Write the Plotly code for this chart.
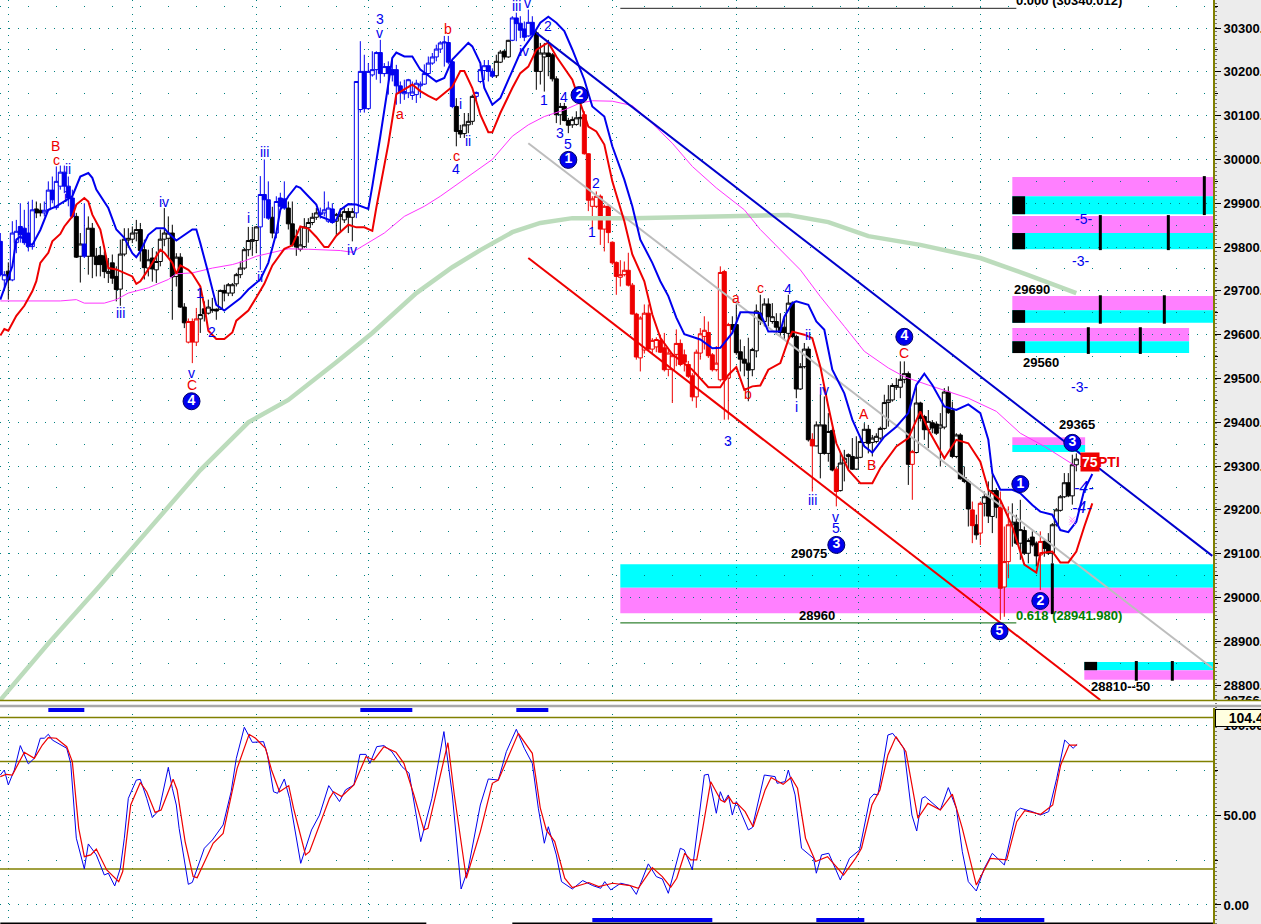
import plotly.graph_objects as go

FONT = "Liberation Sans"
BLUE, RED, BLACK = "#0000ee", "#ee0000", "#000000"
W, H, RIGHT = 1261, 924, 1213

# ---------- candles ----------
opens = [29813,29725,29745,29725,29810,29847,29843,29832,29801,29887,29884,29878,29885,29930,29890,29939,29971,29939,29912,29870,
29779,29807,29779,29843,29779,29781,29780,29740,29764,29733,29704,29784,29816,29818,29832,29840,29794,29752,29775,29748,
29767,29818,29820,29832,29733,29777,29663,29583,29630,29583,29636,29659,29649,29655,29658,29658,29701,29695,29695,29716,
29737,29752,29794,29813,29815,29846,29920,29908,29868,29832,29912,29910,29889,29853,29824,29795,29801,29844,29856,29868,
29874,29878,29859,29887,29859,29870,29862,29881,29868,29878,30114,30201,30116,30193,30205,30244,30196,30212,30205,30205,
30168,30150,30152,30146,30148,30168,30172,30196,30220,30234,30252,30266,30267,30223,30121,30066,30059,30079,30087,30144,
30178,30203,30214,30201,30191,30222,30247,30234,30272,30323,30311,30298,30282,30313,30289,30201,30234,30243,30239,30184,
30102,30121,30089,30079,30080,30093,30102,30013,29893,29893,29916,29841,29893,29811,29765,29731,29737,29747,29713,29647,
29547,29565,29649,29567,29572,29587,29570,29521,29520,29555,29580,29554,29532,29506,29458,29558,29596,29605,29554,29520,
29497,29744,29501,29623,29623,29561,29544,29535,29520,29563,29649,29630,29670,29630,29630,29617,29617,29603,29672,29596,
29476,29527,29567,29361,29346,29329,29394,29329,29381,29293,29244,29307,29322,29322,29293,29320,29354,29384,29354,29356,
29364,29386,29445,29451,29480,29480,29498,29511,29304,29331,29444,29413,29383,29399,29396,29387,29389,29469,29427,29322,
29371,29274,29265,29200,29166,29147,29215,29230,29185,29244,29206,29024,29082,29166,29172,29124,29153,29101,29138,29124,
29097,29128,29128,29101,29166,29199,29230,29262,29232,29303]
closes = [29737,29737,29725,29832,29836,29828,29810,29801,29885,29878,29878,29884,29930,29908,29950,29971,29939,29912,29870,29777,
29807,29779,29843,29779,29760,29760,29744,29744,29729,29703,29784,29818,29820,29832,29840,29792,29753,29771,29750,29767,
29818,29832,29832,29732,29777,29663,29627,29630,29583,29636,29646,29648,29663,29658,29654,29701,29695,29714,29714,29737,
29752,29794,29815,29817,29846,29920,29908,29866,29832,29904,29893,29889,29853,29805,29800,29805,29846,29856,29868,29878,
29878,29885,29889,29856,29874,29874,29881,29868,29881,30178,30201,30116,30201,30205,30244,30196,30212,30196,30193,30168,
30152,30155,30182,30154,30174,30172,30196,30220,30234,30252,30266,30268,30222,30121,30064,30058,30079,30087,30144,30153,
30205,30214,30201,30190,30224,30245,30234,30272,30323,30310,30295,30279,30313,30285,30201,30243,30243,30235,30184,30102,
30121,30089,30078,30091,30095,30096,30013,29907,29910,29916,29841,29893,29833,29764,29733,29737,29747,29713,29647,29549,
29638,29649,29567,29587,29589,29560,29520,29558,29552,29580,29532,29537,29505,29458,29560,29602,29610,29552,29520,29535,
29742,29497,29623,29612,29559,29544,29535,29519,29566,29654,29630,29670,29641,29641,29617,29605,29605,29672,29596,29476,
29527,29567,29360,29346,29394,29394,29329,29379,29291,29242,29307,29318,29326,29293,29320,29356,29384,29352,29364,29368,
29386,29445,29451,29484,29484,29498,29511,29304,29333,29444,29409,29383,29402,29387,29375,29394,29469,29422,29322,29371,
29271,29265,29202,29164,29143,29215,29230,29186,29244,29206,29021,29082,29166,29172,29124,29155,29101,29130,29120,29095,
29128,29112,29101,29166,29200,29230,29262,29232,29303,29316]
highs = [29832,29745,29765,29859,29862,29900,29885,29904,29908,29904,29900,29904,29950,29961,29984,29986,29986,29961,29931,29878,
29832,29900,29870,29855,29798,29802,29790,29775,29783,29756,29817,29843,29843,29847,29862,29855,29817,29794,29798,29790,
29840,29889,29870,29851,29786,29786,29672,29637,29637,29661,29703,29676,29680,29684,29660,29703,29714,29718,29718,29741,
29767,29798,29846,29846,29848,29962,30000,29950,29892,29916,29924,29950,29904,29904,29840,29846,29866,29866,29878,29889,
29890,29927,29904,29900,29878,29889,29889,29889,29889,30178,30270,30239,30220,30247,30247,30273,30220,30224,30232,30216,
30178,30182,30184,30178,30182,30178,30217,30235,30243,30262,30270,30282,30282,30227,30140,30079,30106,30106,30148,30155,
30216,30227,30227,30208,30239,30250,30250,30273,30327,30335,30327,30315,30342,30327,30293,30266,30266,30273,30243,30190,
30129,30129,30095,30098,30110,30129,30110,30014,29916,29927,29920,29897,29897,29813,29767,29770,29767,29787,29718,29650,
29642,29669,29669,29592,29594,29600,29604,29566,29558,29612,29589,29566,29540,29512,29566,29615,29642,29630,29558,29574,
29756,29748,29627,29642,29669,29589,29574,29593,29570,29669,29691,29683,29683,29672,29649,29649,29640,29691,29676,29600,
29535,29581,29573,29375,29402,29463,29459,29421,29386,29299,29333,29337,29329,29364,29368,29364,29398,29394,29371,29375,
29390,29463,29485,29489,29501,29539,29539,29516,29337,29482,29447,29417,29428,29405,29402,29421,29478,29482,29447,29375,
29375,29299,29269,29219,29189,29219,29242,29265,29284,29250,29242,29162,29208,29215,29189,29223,29162,29135,29151,29128,
29151,29132,29147,29170,29204,29234,29284,29284,29326,29329]
lows = [29733,29700,29680,29722,29786,29810,29805,29790,29794,29866,29870,29870,29885,29900,29885,29931,29923,29893,29866,29775,
29719,29775,29737,29729,29733,29733,29729,29718,29716,29676,29666,29779,29798,29809,29813,29767,29726,29733,29721,29718,
29756,29802,29775,29634,29710,29661,29615,29580,29535,29574,29604,29630,29646,29650,29634,29657,29676,29688,29688,29710,
29729,29748,29779,29780,29786,29748,29866,29862,29820,29820,29885,29885,29840,29801,29780,29790,29798,29810,29850,29862,
29865,29870,29855,29853,29828,29836,29855,29832,29813,29866,30107,30107,30113,30189,30182,30174,30189,30148,30178,30125,
30127,30136,30140,30136,30129,30140,30170,30193,30216,30224,30243,30212,30217,30117,30030,30049,30049,30060,30079,30136,
30174,30181,30178,30186,30186,30220,30228,30232,30270,30270,30277,30270,30280,30281,30159,30171,30155,30190,30178,30083,
30079,30087,30060,30072,30077,30075,30011,29882,29844,29889,29805,29790,29809,29760,29691,29710,29733,29710,29646,29543,
29516,29557,29562,29557,29560,29558,29516,29505,29444,29528,29528,29516,29501,29448,29433,29543,29566,29547,29516,29516,
29493,29406,29406,29604,29554,29516,29505,29448,29505,29548,29622,29619,29619,29625,29600,29596,29590,29588,29592,29455,
29474,29523,29356,29242,29345,29272,29326,29310,29288,29208,29242,29265,29291,29291,29291,29318,29352,29329,29322,29352,
29360,29383,29390,29447,29474,29455,29489,29257,29223,29329,29402,29360,29341,29375,29371,29299,29384,29419,29318,29318,
29269,29261,29162,29124,29132,29120,29185,29170,29147,29181,28949,28956,29044,29116,29120,29086,29097,29078,29116,29071,
29017,29093,29097,29078,29162,29196,29227,29229,29212,29288]
candle_colors = ("bbkbbbbbbkkbbbbbbbbk" "kbkkkkkkkkkkkkkkkkkk" "kkkkkkkrrrkkkkkkkkkk" "kkkkkbbbkbbbkkkkkkkk"
                 "bbbbkkkkkbbbbbbbbbbb" "bbbbbbbbbbbbbbkkkkkb" "bbbbkkkkbbbbbbkkkkkk" "kkkkkkrrrrrrrrrrrrrr"
                 "rrrrrrrrrrrrrrrrrrrr" "rrrkkkkkkkkkkkkkkkkk" "kkkrkkkkkrkkkkkkkkkk" "kkkkkkkkrkkkkkkkkkkk"
                 "kkkrkrkkkkrrrkkkkkkk" "rkkkkkkkkk")
bars = list(range(len(opens)))

# ---------- price-panel overlays: (bar, price) ----------
upper_x = [0,3,4,5,7,8,10,12,14,16,18,20,22,23,24,27,29,31,33,34,35,37,39,41,42,44,46,48,49,50,52,54,56,58,60,62,65,67,69,70,72,74,75,77,79,80,83,84,85,87,89,92,93,95,97,98,99,101,103,105,109,111,113,117,118,120,121,123,125,128,130,133,135,137,139,141,143,146,148,151,153,156,158,160,163,165,167,169,171,175,178,180,183,185,187,190,192,195,196,198,199,202,204,206,208,211,213,216,218,221,224,227,229,231,233,236,239,242,245,247,248,250,253,255,258,260,263,265,267,269,271,273]
upper_y = [29680,29756,29817,29824,29809,29805,29839,29885,29893,29904,29916,29961,29969,29958,29931,29889,29840,29821,29786,29777,29790,29828,29843,29843,29832,29815,29828,29840,29840,29809,29740,29668,29655,29668,29683,29703,29726,29764,29832,29885,29916,29939,29935,29916,29897,29870,29859,29862,29885,29898,29897,29887,29939,30053,30167,30232,30244,30235,30235,30205,30178,30186,30228,30266,30258,30220,30163,30125,30140,30205,30244,30282,30312,30326,30312,30293,30251,30182,30121,30098,30030,29954,29893,29817,29764,29722,29688,29639,29601,29589,29569,29570,29604,29651,29651,29649,29607,29607,29641,29672,29676,29668,29630,29611,29520,29466,29406,29345,29331,29367,29390,29421,29485,29511,29485,29436,29428,29441,29421,29360,29284,29246,29246,29238,29211,29196,29189,29154,29149,29173,29246,29282]
lower_x = [0,1,2,4,6,8,9,10,12,13,15,16,18,19,21,22,23,25,26,27,29,31,33,34,35,37,40,41,43,44,45,47,48,50,51,52,54,56,58,59,62,64,66,68,71,73,75,77,79,81,82,84,87,89,91,93,94,97,99,101,103,105,107,109,113,115,116,118,120,122,123,125,128,130,132,134,137,139,141,143,144,145,147,149,151,153,156,158,161,163,165,168,173,177,180,182,184,186,188,190,192,195,197,198,201,203,205,207,209,212,215,218,220,224,227,230,232,236,238,239,242,245,247,250,253,256,259,260,263,265,267,269,271,273]
lower_y = [29598,29613,29609,29643,29666,29699,29722,29764,29787,29813,29830,29847,29870,29897,29912,29904,29874,29840,29798,29752,29749,29741,29733,29716,29722,29749,29794,29787,29764,29739,29758,29748,29739,29710,29666,29609,29590,29590,29605,29632,29655,29685,29716,29758,29796,29804,29847,29842,29823,29800,29800,29826,29851,29845,29845,29837,29890,30035,30149,30160,30171,30156,30145,30136,30166,30202,30202,30163,30102,30062,30062,30106,30163,30197,30212,30250,30267,30235,30208,30182,30155,30129,30075,30064,30034,29950,29859,29783,29722,29646,29593,29555,29520,29480,29480,29508,29526,29474,29482,29484,29520,29535,29588,29607,29600,29592,29527,29436,29352,29291,29261,29261,29295,29345,29364,29425,29383,29318,29345,29360,29352,29310,29246,29223,29162,29075,29057,29101,29105,29080,29080,29105,29162,29215]
thin_x = [0,7,15,19,21,26,29,32,37,42,44,48,53,58,61,64,68,72,77,81,85,88,91,96,101,106,110,116,123,128,132,136,141,145,148,153,158,162,168,173,179,186,190,200,205,211,216,222,226,232,237,242,249,255,261,265,269]
thin_y = [29677,29677,29677,29680,29672,29672,29680,29695,29707,29726,29739,29741,29752,29760,29768,29779,29787,29796,29795,29794,29792,29788,29805,29832,29870,29893,29916,29954,30000,30053,30079,30098,30113,30129,30134,30133,30123,30091,30037,29984,29935,29885,29840,29748,29687,29619,29562,29524,29504,29485,29470,29455,29425,29375,29345,29322,29299]
slow_x = [0,6,12,25,37,50,62,72,84,93,104,113,120,128,135,143,158,175,190,197,207,217,230,245,257,269]
slow_y = [28766,28832,28895,29028,29154,29291,29400,29451,29537,29604,29695,29754,29793,29834,29855,29866,29866,29869,29871,29873,29857,29825,29805,29775,29736,29695]

# ---------- trend lines ----------
blue_trend_x, blue_trend_y = [134, 303], [30289, 29095]
red_trend_x, red_trend_y = [132, 275], [29775, 28766]
gray_trend_x, gray_trend_y = [132, 303], [30037, 28839]
fib_x = [155, 254]
fib_top, fib_bottom = 30345, 28942

# ---------- zones: bar from, bar to, price top, price mid, price bottom, upper colour ----------
zone_from = [253, 253, 253, 253, 253, 155, 271]
zone_to = [303.2, 303.2, 303.2, 297.2, 271.2, 303.2, 303.2]
zone_top = [29960, 29871, 29688, 29615, 29366, 29076, 28853]
zone_mid = [29916, 29832, 29656, 29585, 29348, 29022, 28834]
zone_bot = [29875, 29795, 29627, 29558, 29332, 28964, 28812]
zone_upper = ["m", "m", "m", "m", "m", "c", "c"]
zone_block = [True, True, True, True, False, False, True]
zone_ticks = [[301], [275, 292], [275, 291], [272, 285], [], [263], [284, 293]]

# ---------- oscillator ----------
osc_fast_x = [0,1,2,3.5,5,7,8.5,10,11,12,13,15,16.6,17.6,18.6,19,21,22,24,26,27,28.6,30,31,32,34,35,36.6,38,39.7,42,43,44,44.7,47,48,51,53,55.7,57.7,59,61,63,65.8,66.8,68.3,69.3,71,72.3,75.1,77.8,79.8,82.1,84.8,86.3,88.4,89.9,91.4,92.4,94.1,95.9,97.9,100.4,102.2,105.1,107.9,110.9,113,115.2,117,120,122,124.5,126.5,129,131,133,134.5,136,137,139,140.3,143,145.6,148.1,150.1,151.1,152.6,155.1,157.5,159,162,164,165.5,167,170,171,173,176,177,179,180,181,182,183,184,187,188,191,193.7,194.2,196.2,197,198.7,200.3,203.3,204,205.3,207.1,210,212.3,214.8,217.4,218.4,219.4,221.9,223.1,225.9,226.4,227.9,229.1,230.4,231.2,235,237,239,240.5,242,244,246,248,251,254,255,258,260,262.1,264.1,266.1,268.2,269.2]
osc_fast_y = [72.4,75.2,66.9,75.2,88.8,78.6,81.7,92.9,92.9,95.1,91.9,89.5,87.3,78.9,52,37.2,20.1,34,27.9,16.7,17.7,10.6,20.4,37.2,59.4,69.6,70,59.4,48.7,52.9,76.7,65,55.7,42.7,11.5,12.6,31.6,36.2,44.6,63.1,81.7,99,90.6,91,83.6,63.1,62.2,70.2,59.4,23.2,41.8,50.1,66.5,57.6,64.1,66.9,83.9,83.9,78.9,88.2,88.8,85.4,77.1,73.4,35.3,59.4,96.6,61.3,8.9,20.4,55.7,70.2,69.6,85.4,97.9,87.3,78.9,53.9,34.4,43.6,27.9,13,8.9,13.6,10.8,9.3,13,8.4,12.1,10.8,5.9,22.9,15.8,14.5,6.5,31.6,30.6,19.5,72.4,72.8,51.1,63.1,57.6,61.3,50.1,57.6,41.8,43.1,72.4,71.5,67.8,68.7,75.2,61.3,31.6,26,17.7,27.9,28.8,13.9,26,30.6,59.4,61.8,61.3,94.7,95.6,87.3,78,50.1,41.2,59.4,60.4,52.9,65.4,53.9,29.7,13,7.8,20.4,28.8,22.3,52,53.9,52,50.1,52,70.6,91.9,87.3,89.5]
osc_slow_x = [0,1.5,3,4.5,6,8.5,10.5,12,14,16.6,18,19.6,21,22.6,24,26.6,29.6,30.6,32.6,35,36.6,38.7,40.2,43.2,44.2,46.2,48.2,49.2,51.2,53.2,55.7,59.2,62.2,63.8,66.3,67.8,69.8,72.1,73.3,76.3,77.3,82.3,83.3,85.3,88.4,91.4,93.4,95.9,98.9,100.9,103.4,105.9,106.9,111.9,113.5,116.5,120,123,124.5,129.5,133,135,136.5,138.6,141.1,143,147.1,149.6,153.1,157.5,159.5,163,165.5,167.6,169.1,171.1,172.6,174.1,175.6,177.6,180.1,181.1,182.1,183.2,184.2,186.2,188.2,191.2,192.7,195.7,197.7,199.3,201.3,203.8,206.8,210.8,213.8,215.3,217.9,219.9,221.9,223.9,226.4,229.4,231.9,235,238,240.5,244,247.5,251.6,254.1,256.1,260.1,263.1,265.1,267.2,269.2]
osc_slow_y = [71.5,72.8,72.4,78.9,85.1,81.7,89.1,93.2,92.9,88.2,79.9,42.7,26.9,27.9,31.2,19.5,13,18.6,55.7,68.2,63.1,51.6,52.9,70,64.1,35.3,15.8,15.2,25.1,34.4,39.9,76.1,95.1,92.9,87.3,75.2,63.1,66.5,53.9,27.9,29.7,59.4,63.1,60.4,66.9,82.6,80.8,88.2,85.1,78.9,61.3,41.8,42.7,90.4,61.3,14.9,40.9,67.8,69.6,95.6,84.5,53.9,41.8,35.3,14.9,9.7,12.5,10.2,12.1,10.8,9.3,20.8,15.8,9.9,14.9,28.8,25.1,25.1,42.7,68.7,58.5,57.2,60.4,56.6,56.6,52,43.6,64.1,71,67.2,71,65,37.2,24.2,26.9,16.7,26,31.6,55.7,64.1,83.6,93.8,85.4,48.3,56.6,52.9,61.7,42.7,11.1,26,25.1,46.4,52.6,50.5,55.7,78,89.1,89.1]
osc_levels = [104.4, 80, 20]
top_flags = [(12, 21), (90, 103), (129, 137)]
bottom_flags = [(148, 178), (204, 216), (244, 261)]
bottom_rule = [(0, 106.5), (128, 303.2)]

# ---------- labels: text, bar, price ----------
red_labels = [("B",13.8,30031),("c",14,29999),("C",47.8,29485),("a",100,30104),("b",112,30298),("c",114,30008),("a",184,29684),("b",187,29464),("c",190,29706),("A",215.8,29419),("B",217.8,29302),("C",226,29558)]
blue_labels = [("ii",16.8,29978),("i",16.2,29914),("iv",40.8,29903),("iii",30,29649),("v",47.8,29512),("1",49.8,29695),("2",52.8,29606),("i",62,29866),("iii",66,30017),("ii",65,29732),("iv",88,29793),("3",94.8,30321),("v",94.8,30289),("i",115,30126),("ii",117,30042),("4",113.8,29978),("iii",129,30350),("v",131.8,30357),("iv",130.8,30247),("2",136.8,30305),("1",135.8,30136),("4",140.8,30142),("3",139.8,30060),("5",141.8,30035),("2",148.8,29946),("1",147.8,29834),("3",181.8,29357),("4",196.8,29704),("ii",202,29599),("i",199,29435),("iv",205.8,29474),("iii",203,29222),("v",208.8,29184),("5",208.8,29158),("-5-",270.8,29864),("-3-",270,29768),("-3-",269.8,29480)]
italic_labels = [("-4-",270.8,29252),("-4-",270.5,29206)]
black_labels = [("29690",258,29702),("29560",260.2,29537),("29365",269.2,29394),("29075",202.2,29101),("28960",204.2,28960),("28810--50",280,28796),("0.000 (30340.012)",267.2,30364)]
green_labels = [("0.618 (28941.980)",267.2,28958)]
wave_text = ["1","2","4","3","4","5","1","2","3"]
wave_x = [142,144.8,47.8,209,226,249.8,255,260,268]
wave_y = [29999,30147,29448,29120,29595,28923,29259,28992,29353]

# ---------- axes ----------
grid_bars = [2, 33, 64, 92, 123, 153, 184, 214.5, 245]
price_ticks = list(range(28800, 30301, 100))
price_minor = list(range(28850, 30351, 100))
osc_ticks = [0, 50, 100]
osc_minor = [25, 75]
x_range = [-0.08, 303.17]
TEAL = "#008080"

fig = go.Figure()

def line(x, y, color, width, yaxis="y", xaxis="x", dash=None):
    fig.add_trace(go.Scatter(x=x, y=y, mode="lines", xaxis=xaxis, yaxis=yaxis, hoverinfo="skip",
                             line=dict(color=color, width=width, dash=dash), showlegend=False))

line(slow_x, slow_y, "#bcdcbc", 4.5)
line(gray_trend_x, gray_trend_y, "#bdbdbd", 2)

for code, col in (("k", BLACK), ("b", BLUE), ("r", RED)):
    idx = [i for i in bars if candle_colors[i] == code]
    fig.add_trace(go.Candlestick(
        x=[bars[i] for i in idx], open=[opens[i] for i in idx], high=[highs[i] for i in idx],
        low=[lows[i] for i in idx], close=[closes[i] for i in idx], whiskerwidth=0, showlegend=False,
        increasing=dict(line=dict(color=col, width=1), fillcolor="#ffffff"),
        decreasing=dict(line=dict(color=col, width=1), fillcolor=col), hoverinfo="skip"))

line(thin_x, thin_y, "#ff33ff", 1)
line(lower_x, lower_y, RED, 2)
line(upper_x, upper_y, BLUE, 2)
line(blue_trend_x, blue_trend_y, "#0000cc", 2)
line(red_trend_x, red_trend_y, RED, 2)
line(fib_x, [fib_top] * 2, "#222222", 1)
line(fib_x, [fib_bottom] * 2, "#006400", 1)

# zone shapes
shapes = []
MAG, CY = "#ff80ff", "#00ffff"
for i in range(len(zone_from)):
    up, lo = (MAG, CY) if zone_upper[i] == "m" else (CY, MAG)
    for y0, y1, col in ((zone_mid[i], zone_top[i], up), (zone_bot[i], zone_mid[i], lo)):
        shapes.append(dict(type="rect", xref="x", yref="y", x0=zone_from[i], x1=zone_to[i], y0=y0, y1=y1,
                           fillcolor=col, line_width=0, layer="below"))
    if zone_block[i]:
        y0, y1 = (zone_bot[i], zone_mid[i]) if zone_upper[i] == "m" else (zone_mid[i], zone_top[i])
        fig.add_trace(go.Scatter(x=[zone_from[i], zone_from[i] + 3.2, zone_from[i] + 3.2, zone_from[i]],
                                 y=[y0, y0, y1, y1], fill="toself", fillcolor=BLACK, mode="none",
                                 showlegend=False, hoverinfo="skip"))
    for t in zone_ticks[i]:
        line([t, t], [zone_bot[i] - 2, zone_top[i] + 2], BLACK, 3)

# circled waves
fig.add_trace(go.Scatter(x=wave_x, y=wave_y, text=wave_text, mode="markers+text", textposition="middle center",
                         marker=dict(size=17, color=BLUE, line=dict(color="#000066", width=1)),
                         textfont=dict(family=FONT, size=14, color="#ffffff", weight="bold"),
                         showlegend=False, hoverinfo="skip", cliponaxis=False))
fig.add_trace(go.Scatter(x=[268, 268], y=[29172, 29178], mode="markers", showlegend=False, hoverinfo="skip",
                         marker=dict(symbol=["x-thin-open", "x-thin-open"], size=6,
                                     line=dict(color=["#00aa00", "#ee0000"], width=1))))

# oscillator
for lv in osc_levels:
    line(x_range, [lv, lv], "#808000", 1.5, "y2", "x2")
line(osc_fast_x, osc_fast_y, BLUE, 1, "y2", "x2")
line(osc_slow_x, osc_slow_y, RED, 1.2, "y2", "x2")
for a, b in top_flags:
    line([a, b], [108.6, 108.6], BLUE, 4, "y2", "x2")
for a, b in bottom_flags:
    line([a, b], [-8.4, -8.4], BLUE, 4, "y2", "x2")
for a, b in bottom_rule:
    line([a, b], [-10.2, -10.2], BLACK, 1.5, "y2", "x2")
fig.add_trace(go.Scatter(x=[303.2], y=[104.4], xaxis="x2", yaxis="y2", mode="markers", cliponaxis=False,
                         marker=dict(symbol="cross-thin-open", size=13, line=dict(color=BLACK, width=1)),
                         showlegend=False, hoverinfo="skip"))

# annotations
ann = []
for group, col, size, weight in ((red_labels, RED, 14, "normal"), (blue_labels, BLUE, 14, "normal"),
                                 (black_labels, BLACK, 13, "bold"), (green_labels, "#008000", 13, "bold")):
    for txt, b, p in group:
        ann.append(dict(text=txt, x=b, y=p, xref="x", yref="y", showarrow=False, xanchor="center", yanchor="middle",
                        font=dict(family=FONT, size=size, color=col, weight=weight), borderpad=0))
for txt, b, p in italic_labels:
    ann.append(dict(text=f"<i>{txt}</i>", x=b, y=p, xref="x", yref="y", showarrow=False, borderpad=0,
                    font=dict(family=FONT, size=16, color=BLUE)))
ann.append(dict(text="75", x=272.5, y=29309, xref="x", yref="y", showarrow=False, bgcolor=RED, borderpad=1,
                font=dict(family=FONT, size=14, color="#ffffff", weight="bold")))
ann.append(dict(text="PTI", x=277.2, y=29309, xref="x", yref="y", showarrow=False, borderpad=0,
                font=dict(family=FONT, size=14, color=RED, weight="bold")))
ann.append(dict(text="104.4", x=1215 / W, y=104.4, xref="paper", yref="y2", xanchor="left", yanchor="middle",
                showarrow=False, bgcolor="#ffffe0", bordercolor=BLACK, borderwidth=1, borderpad=0, width=48, align="right",
                font=dict(family=FONT, size=14, color=BLACK, weight="bold")))

def py(px):
    return (H - px) / H

shapes += [
    dict(type="rect", xref="paper", yref="paper", x0=0, x1=1, y0=py(708), y1=py(700), fillcolor="#ffffff", line_width=0),
    dict(type="line", xref="paper", yref="paper", x0=0, x1=1, y0=py(700.5), y1=py(700.5), line=dict(color="#808000", width=1.5)),
    dict(type="line", xref="paper", yref="paper", x0=0, x1=1, y0=py(706), y1=py(706), line=dict(color="#a8a8a8", width=2.5)),
    dict(type="line", xref="paper", yref="paper", x0=1216 / W, x1=1216 / W, y0=0, y1=1, line=dict(color=BLACK, width=1, dash="1px,3px")),
]

common_x = dict(domain=[0, RIGHT / W], range=x_range, showticklabels=False, ticks="", zeroline=False, automargin=False,
                tickvals=grid_bars, showgrid=True, gridcolor=TEAL, griddash="1px,6px", gridwidth=1,
                rangeslider=dict(visible=False), showline=False)
common_y = dict(side="right", showline=True, linecolor="#808000", linewidth=2, zeroline=False, ticks="outside", automargin=False,
                ticklen=6, tickcolor=BLACK, tickfont=dict(family=FONT, size=13, color=BLACK, weight="bold"),
                showgrid=True, gridcolor=TEAL, griddash="1px,8px", gridwidth=1)

fig.update_layout(
    width=W, height=H, margin=dict(l=0, r=0, t=0, b=0), paper_bgcolor="#ececec", plot_bgcolor="#ffffff",
    showlegend=False, shapes=shapes, annotations=ann, font=dict(family=FONT), hovermode=False,
    boxgap=0, boxgroupgap=0,
    xaxis=dict(anchor="y", **common_x),
    xaxis2=dict(anchor="y2", matches="x", **common_x),
    yaxis=dict(anchor="x", domain=[(H - 700) / H, 1], range=[28766, 30364],
               tickvals=price_ticks + [28766], ticktext=[f"{v}.00" for v in price_ticks] + ["28766"],
               minor=dict(tickvals=price_minor, ticks="outside", ticklen=3, tickcolor=BLACK, showgrid=True,
                          gridcolor=TEAL, griddash="1px,27px", gridwidth=1), **common_y),
    yaxis2=dict(anchor="x2", domain=[0, (H - 707) / H], range=[-10.6, 110.3],
                tickvals=osc_ticks, ticktext=[f"{v:.2f}" for v in osc_ticks],
                minor=dict(tickvals=osc_minor, ticks="outside", ticklen=3, tickcolor=BLACK, showgrid=True,
                           gridcolor=TEAL, griddash="1px,27px", gridwidth=1), **common_y),
)

fig.write_html("out.html", config=dict(displayModeBar=False),
               post_script="document.body.style.margin='0';document.documentElement.style.overflow='hidden';")
